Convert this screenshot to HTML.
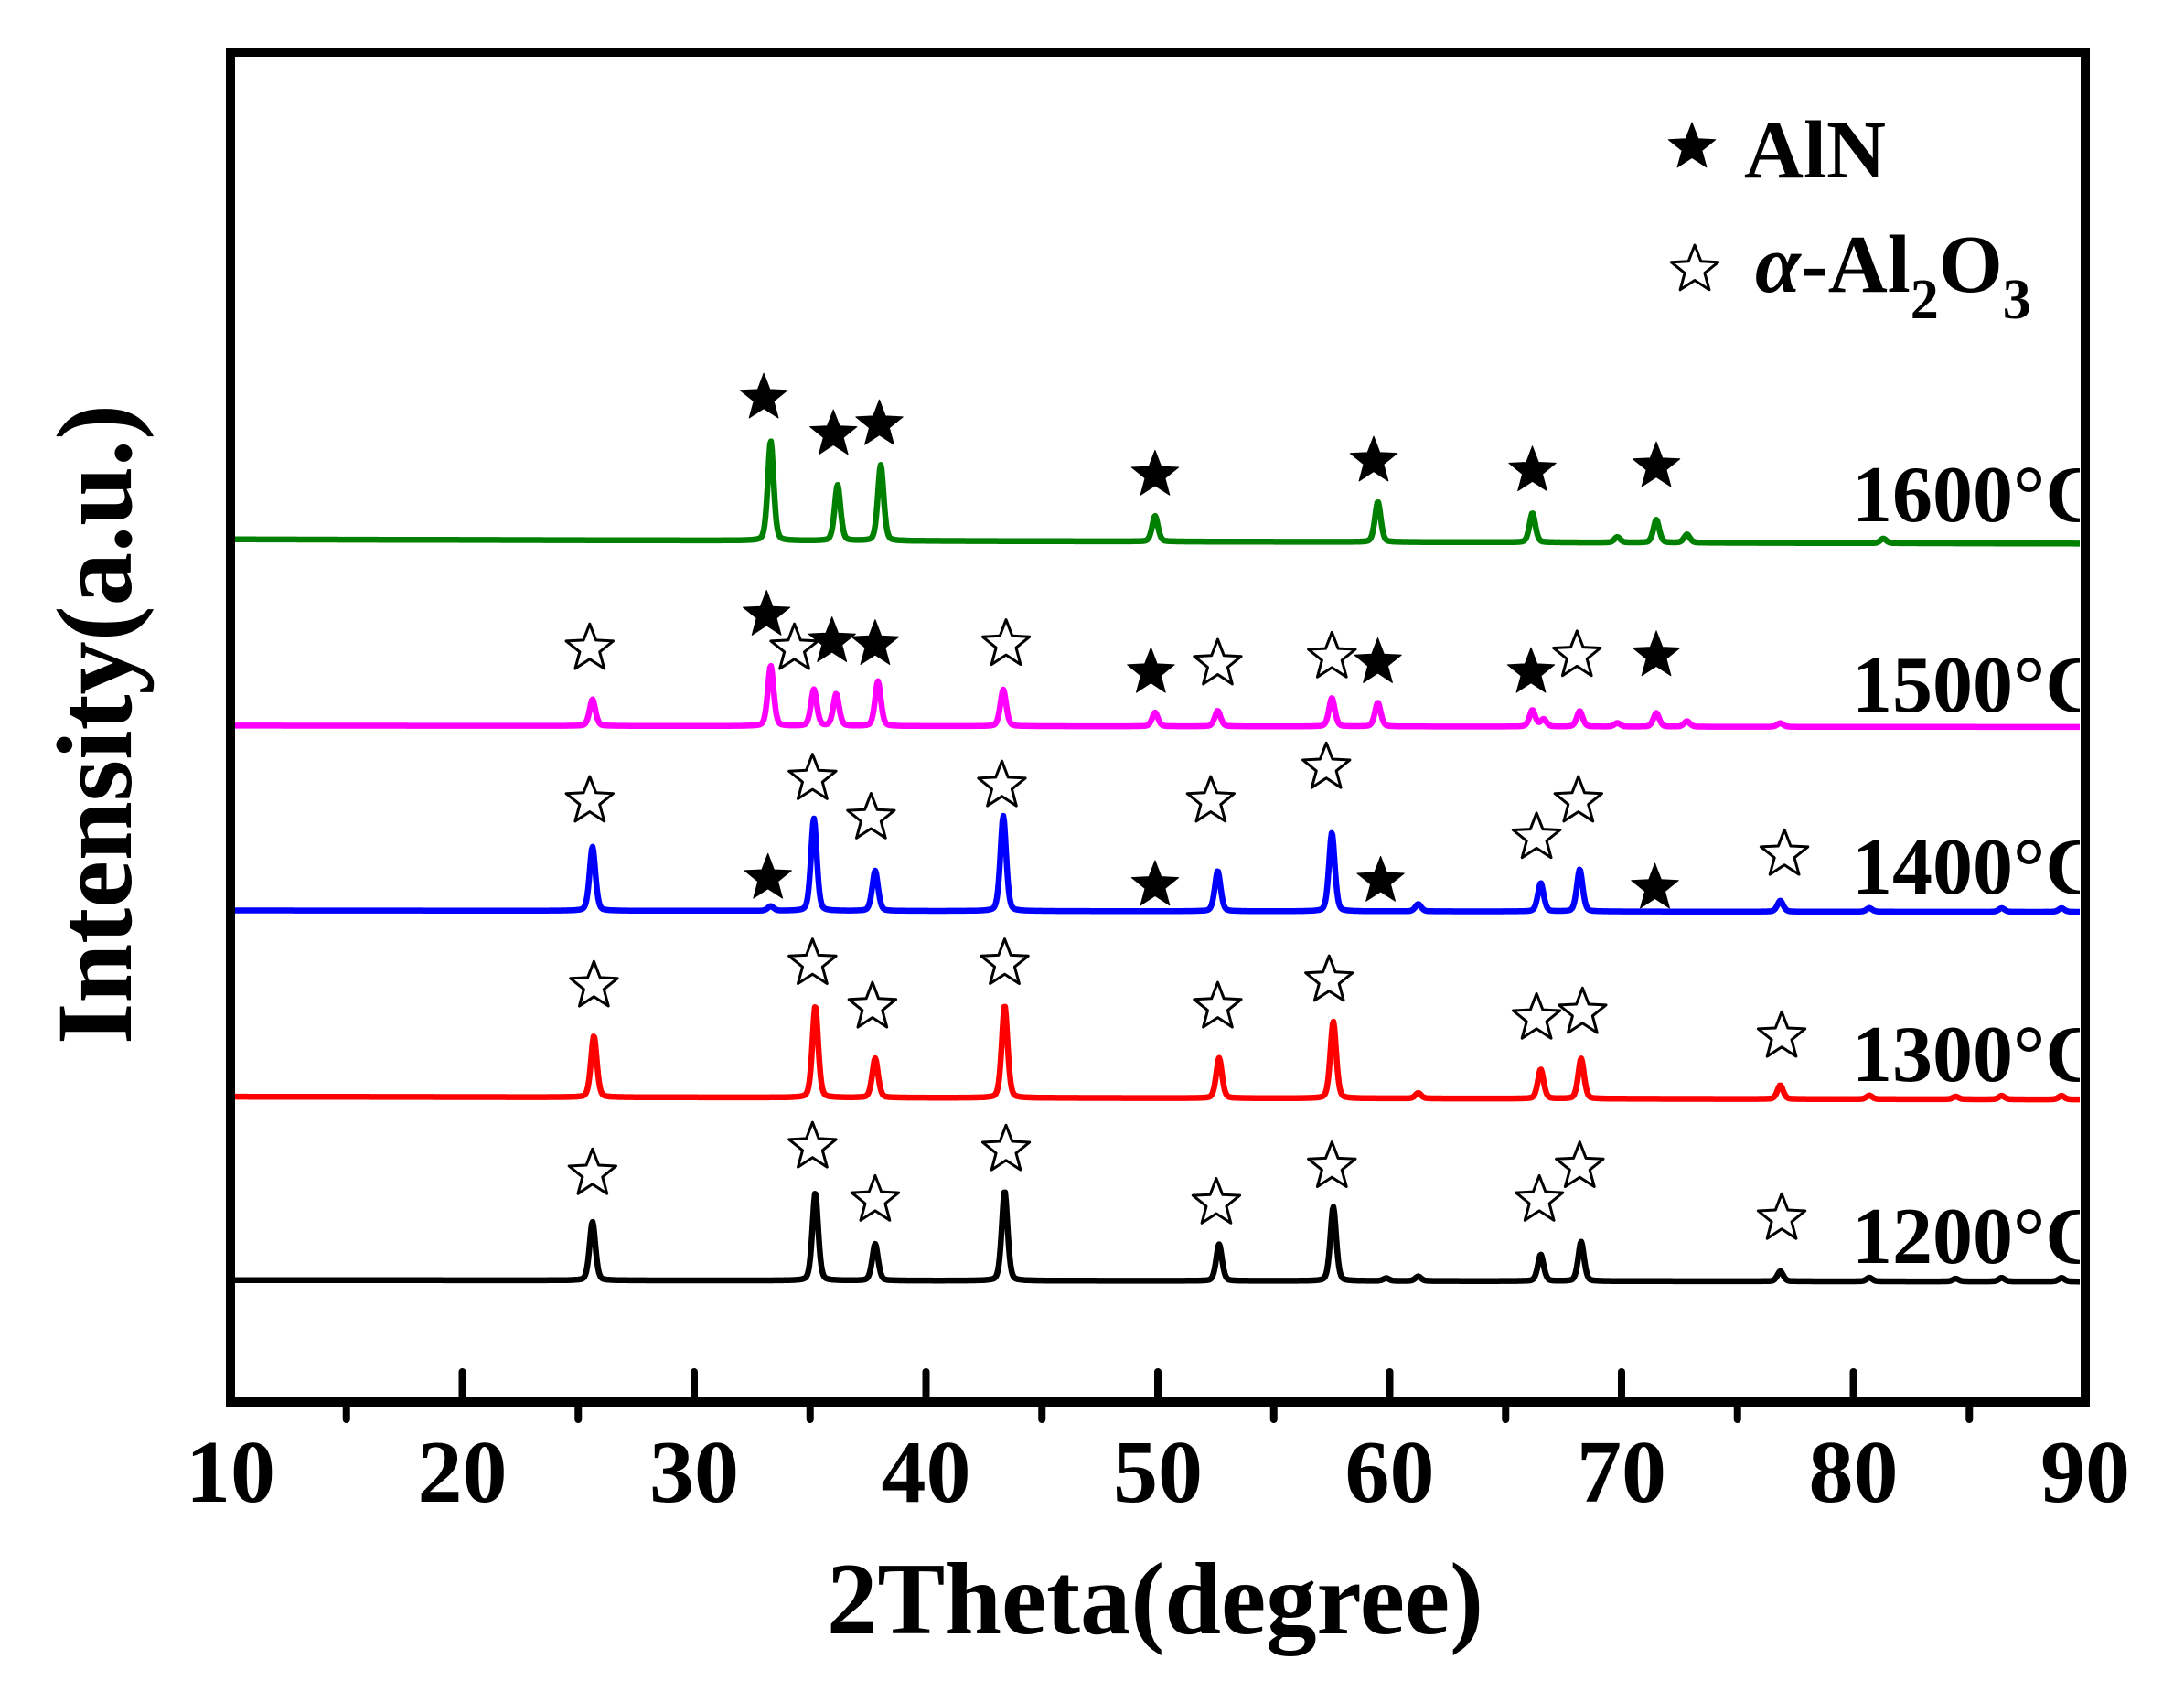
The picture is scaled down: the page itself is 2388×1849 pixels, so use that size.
<!DOCTYPE html>
<html><head><meta charset="utf-8"><style>
html,body{margin:0;padding:0;background:#fff;}
svg{display:block;}
text{font-family:"Liberation Serif",serif;font-weight:bold;fill:#000;}
</style></head><body>
<svg id="s" width="2388" height="1849" viewBox="0 0 2388 1849" xmlns="http://www.w3.org/2000/svg">
<defs><clipPath id="c"><rect x="252" y="57" width="2022" height="1476"/></clipPath></defs>
<g id="curves" clip-path="url(#c)"></g>
<g id="stars"></g>
<g id="labels" clip-path="url(#c)">
<text x="2025" y="570" font-size="88">1600°C</text>
<text x="2025" y="778" font-size="88">1500°C</text>
<text x="2025" y="977" font-size="88">1400°C</text>
<text x="2025" y="1182" font-size="88">1300°C</text>
<text x="2025" y="1381" font-size="88">1200°C</text>
</g>
<rect x="252" y="57" width="2028" height="1476" fill="none" stroke="#000" stroke-width="10"/>
<g id="ticks" stroke="#000" stroke-width="8" stroke-linecap="round"></g>
<g font-size="98" text-anchor="middle" id="tl"></g>
<text x="1263" y="1786" font-size="112" text-anchor="middle" textLength="718" lengthAdjust="spacingAndGlyphs">2Theta(degree)</text>
<text transform="translate(143,792) rotate(-90)" font-size="118" text-anchor="middle" textLength="700" lengthAdjust="spacingAndGlyphs">Intensity(a.u.)</text>
<text x="1907" y="194" font-size="90">AlN</text>
<text x="1919" y="319" font-size="90"><tspan font-style="italic">α</tspan>-Al<tspan font-size="62" dy="29">2</tspan><tspan dy="-29">O</tspan><tspan font-size="62" dy="29">3</tspan></text>
</svg>
<script>
var NS="http://www.w3.org/2000/svg";
function X(p){return 252+(p-165)*1.5225;}
function Y(p){return 57+(p-38)*1.531;}
var series=[
 {col:"#008000",base:386,end:389,pk:[[553,109],[601,61],[632,83],[829,28],[989,44],[1100,32],[1161,6],[1189,25],[1211,9],[1352,5]]},
 {col:"#ff00ff",base:519,end:520,pk:[[425,29],[553,66],[584,40],[600,35],[630,49],[720,40],[829,15],[874,17],[956,31],[989,26],[1100,18],[1108,8],[1134,17],[1161,4],[1189,15],[1211,6],[1278,4]]},
 {col:"#0000ff",base:651,end:652,pk:[[425,70],[553,5],[584,101],[628,44],[720,104],[874,44],[956,86],[1018,8],[1106,31],[1134,46],[1278,12],[1342,4],[1437,4],[1480,4]]},
 {col:"#ff0000",base:784,end:786,pk:[[426,67],[585,100],[628,43],[721,101],[875,44],[957,84],[1018,6],[1106,32],[1135,44],[1278,15],[1342,4],[1404,3],[1437,4],[1480,4]]},
 {col:"#000000",base:915,end:916,pk:[[425,64],[585,96],[628,40],[721,98],[875,40],[957,81],[995,3],[1018,5],[1106,29],[1135,43],[1278,11],[1342,4],[1404,3],[1437,4],[1480,4]]}
];
var g=document.getElementById("curves");
series.forEach(function(s){
 var d="";var b0=Y(s.base),b1=Y(s.end);
 for(var x=252;x<=2285;x+=1){
  var y=b0+(b1-b0)*(x-252)/2028;
  s.pk.forEach(function(p){var c=X(p[0]),h=p[1],u=(x-c);
   y-=h*(0.65*Math.exp(-u*u/(2*3.4*3.4))+0.35/(1+u*u/10));});
  d+=(x==252?"M":"L")+x+" "+y.toFixed(1);
 }
 var pa=document.createElementNS(NS,"path");pa.setAttribute("d",d);pa.setAttribute("fill","none");
 pa.setAttribute("stroke",s.col);pa.setAttribute("stroke-width","6.5");pa.setAttribute("stroke-linejoin","round");g.appendChild(pa);
});
function star(cx,cy,filled){
 var R=27,r=11.5,pts=[];
 for(var i=0;i<10;i++){var a=-Math.PI/2+i*Math.PI/5,rr=i%2?r:R;pts.push((cx+rr*Math.cos(a)).toFixed(1)+","+(cy+rr*Math.sin(a)).toFixed(1));}
 var p=document.createElementNS(NS,"polygon");p.setAttribute("points",pts.join(" "));
 p.setAttribute("fill",filled?"#000":"#fff");p.setAttribute("stroke","#000");p.setAttribute("stroke-width",filled?"1":"3");p.setAttribute("stroke-linejoin","round");
 document.getElementById("stars").appendChild(p);
}
var st=[
"f548,285 f598,311 f631,304 f829,340 f986,330 f1100,337 f1189,334",
"o423,464 f550,440 o570,464 f597,459 f628,461 o722,461 f826,481 o874,475 o956,470 f989,474 f1099,481 o1132,469 f1189,469",
"o423,573 f551,628 o583,557 o625,585 o719,562 f829,633 o869,573 o952,549 f991,630 o1103,599 o1133,573 f1188,635 o1281,611",
"o426,705 o583,689 o626,720 o721,689 o874,720 o954,701 o1103,728 o1136,724 o1279,741",
"o425,839 o583,820 o628,858 o722,822 o873,860 o956,834 o1105,858 o1134,834 o1279,871"];
st.join(" ").split(" ").forEach(function(t){var f=t[0]=="f",xy=t.slice(1).split(",");star(X(+xy[0]),Y(+xy[1]),f);});
star(1850,161,true);star(1853,295,false);
var tk=document.getElementById("ticks"),tl=document.getElementById("tl");
for(var v=10;v<=90;v+=5){var x=252+(v-10)*25.35;
 var l=document.createElementNS(NS,"line");
 if(v%10==0){ if(v>10&&v<90){l.setAttribute("x1",x);l.setAttribute("x2",x);l.setAttribute("y1",1533);l.setAttribute("y2",1500);tk.appendChild(l);}
  var t=document.createElementNS(NS,"text");t.setAttribute("x",x);t.setAttribute("y",1642);t.textContent=v;tl.appendChild(t);}
 else{l.setAttribute("x1",x);l.setAttribute("x2",x);l.setAttribute("y1",1533);l.setAttribute("y2",1552);tk.appendChild(l);}
}
</script>
</body></html>
